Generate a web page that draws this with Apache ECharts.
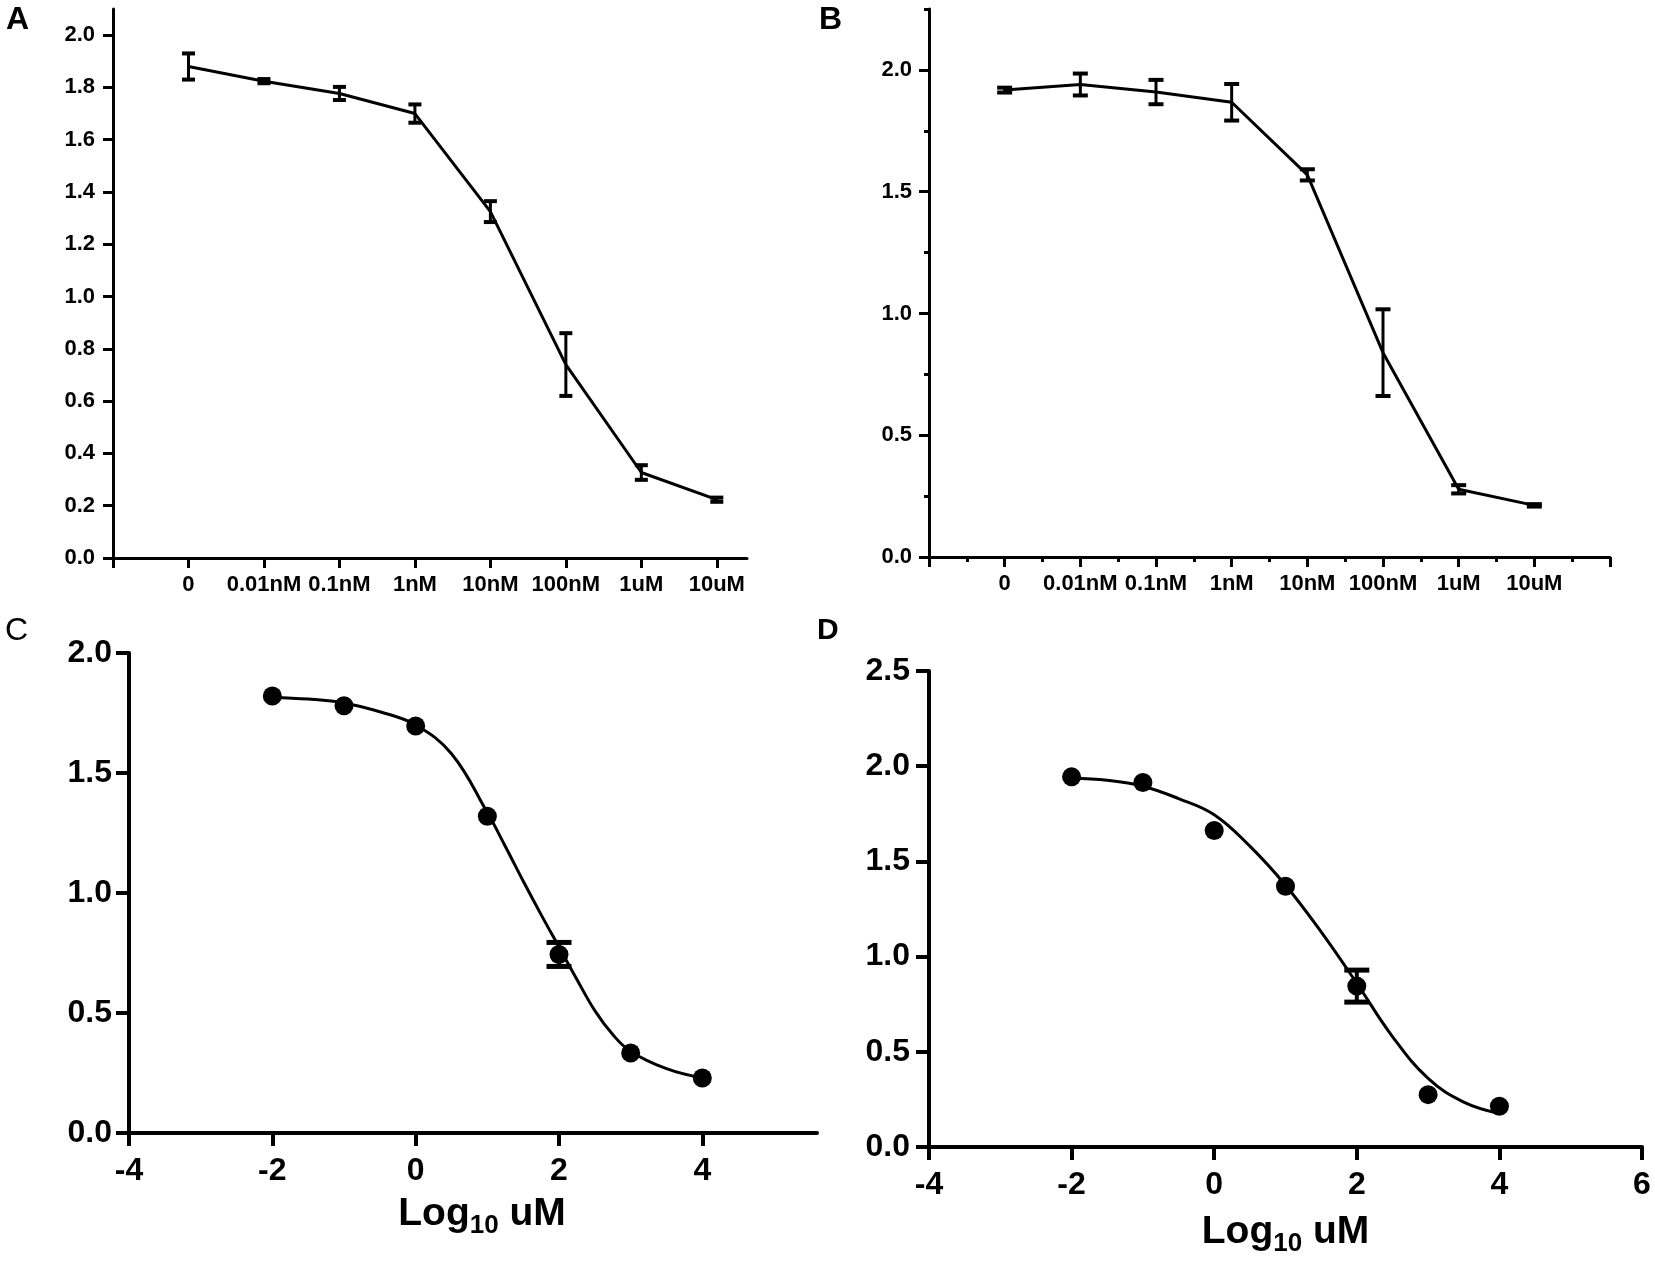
<!DOCTYPE html>
<html>
<head>
<meta charset="utf-8">
<title>Dose response</title>
<script src="https://cdn.jsdelivr.net/npm/echarts@6/dist/echarts.min.js"></script>
<style>
  html, body { margin: 0; padding: 0; background: #fff; }
  #chart { width: 1655px; height: 1263px; }
</style>
</head>
<body>
<div id="chart"></div>
<script>
// A / B : concentration categories on the x axis
var concLabels = ['0', '0.01nM', '0.1nM', '1nM', '10nM', '100nM', '1uM', '10uM'];
var concPos = [0, 1, 2, 3, 4, 5, 6, 7];

var aMean = [1.88, 1.824, 1.777, 1.70, 1.325, 0.74, 0.327, 0.223];
var aErr  = [0.05, 0.008, 0.025, 0.035, 0.04, 0.12, 0.028, 0.008];
var bMean = [1.917, 1.94, 1.909, 1.867, 1.569, 0.839, 0.278, 0.212];
var bErr  = [0.01, 0.045, 0.05, 0.075, 0.023, 0.178, 0.017, 0.005];

// C / D : log10 dose
var logDose = [-2, -1, 0, 1, 2, 3, 4];
var cMean = [1.821, 1.78, 1.696, 1.32, 0.744, 0.333, 0.229];
var cErr  = [0, 0, 0, 0, 0.05, 0, 0];
var dMean = [1.944, 1.914, 1.662, 1.369, 0.845, 0.275, 0.214];
var dErr  = [0, 0, 0, 0, 0.084, 0, 0];

// fitted curves
var cFitX = [-2, -1.5, -1, -0.5, 0, 0.5, 1, 1.25, 1.5, 1.75, 2, 2.25, 2.5, 2.75, 3, 3.5, 4];
var cFitY = [1.815, 1.808, 1.792, 1.755, 1.70, 1.58, 1.335, 1.195, 1.05, 0.91, 0.775, 0.64, 0.51, 0.41, 0.34, 0.268, 0.229];
var dFitX = [-2, -1.5, -1, -0.5, 0, 0.5, 1, 1.5, 2, 2.5, 3, 3.5, 4];
var dFitY = [1.937, 1.926, 1.895, 1.83, 1.745, 1.58, 1.375, 1.13, 0.86, 0.58, 0.36, 0.236, 0.176];

// tick values
var aXTicks = [-1, 0, 1, 2, 3, 4, 5, 6, 7];
var aYTicks = [0, 0.2, 0.4, 0.6, 0.8, 1.0, 1.2, 1.4, 1.6, 1.8, 2.0];
var bXMinor = [-0.5, 0.5, 1.5, 2.5, 3.5, 4.5, 5.5, 6.5, 7.5];
var bYTicks = [0, 0.5, 1.0, 1.5, 2.0];
var bYMinor = [0.25, 0.75, 1.25, 1.75, 2.25];
var cXTicks = [-4, -2, 0, 2, 4];

var FONT = '"Liberation Sans", Arial, Helvetica, sans-serif';

var chart = echarts.init(document.getElementById('chart'));

function pairs(xs, ys) {
  return xs.map(function (x, i) { return [x, ys[i]]; });
}

// vertical error bar with caps
function errorBars(idx, xs, means, errs, capW, lw, capLw) {
  return {
    type: 'custom',
    xAxisIndex: idx,
    yAxisIndex: idx,
    z: 5,
    data: xs.map(function (x, i) {
      return [x, means[i] - errs[i], means[i] + errs[i], errs[i]];
    }),
    renderItem: function (params, api) {
      if (!api.value(3)) return { type: 'group', children: [] };
      var lo = api.coord([api.value(0), api.value(1)]);
      var hi = api.coord([api.value(0), api.value(2)]);
      var h = capW / 2;
      return {
        type: 'group',
        children: [
          { type: 'line', shape: { x1: lo[0], y1: lo[1], x2: hi[0], y2: hi[1] },
            style: { stroke: '#000', lineWidth: lw } },
          { type: 'line', shape: { x1: lo[0] - h, y1: lo[1], x2: lo[0] + h, y2: lo[1] },
            style: { stroke: '#000', lineWidth: capLw } },
          { type: 'line', shape: { x1: hi[0] - h, y1: hi[1], x2: hi[0] + h, y2: hi[1] },
            style: { stroke: '#000', lineWidth: capLw } }
        ]
      };
    }
  };
}

function smallAxis(extra) {
  var base = {
    type: 'value',
    axisLine: { onZero: false, lineStyle: { color: '#000', width: 3 } },
    axisTick: { length: 10, lineStyle: { color: '#000', width: 3 } },
    axisLabel: { color: '#000', fontSize: 22, fontWeight: 'bold', fontFamily: FONT },
    splitLine: { show: false }
  };
  return Object.assign(base, extra);
}

function bigAxis(extra) {
  var base = {
    type: 'value',
    axisLine: { onZero: false, lineStyle: { color: '#000', width: 4 } },
    axisTick: { length: 13, lineStyle: { color: '#000', width: 4 } },
    axisLabel: { color: '#000', fontSize: 32, fontWeight: 'bold', fontFamily: FONT },
    splitLine: { show: false }
  };
  return Object.assign(base, extra);
}

// only-minor-tick axis laid over panel B
function minorAxis(gridIndex, pos, min, max, ticks) {
  return {
    type: 'value', gridIndex: gridIndex, position: pos, min: min, max: max,
    axisLine: { show: false, onZero: false },
    axisTick: { show: true, length: 5, lineStyle: { color: '#000', width: 3 }, customValues: ticks },
    axisLabel: { show: false }, splitLine: { show: false }
  };
}

var logName = '{a|Log}{b|10}{a| uM}';
var logRich = {
  a: { fontSize: 39, fontWeight: 'bold', fontFamily: FONT, color: '#000', verticalAlign: 'top', lineHeight: 48 },
  b: { fontSize: 26, fontWeight: 'bold', fontFamily: FONT, color: '#000', verticalAlign: 'top', lineHeight: 48, padding: [18, 0, 0, 0] }
};

var option = {
  backgroundColor: '#fff',
  animation: false,
  grid: [
    { left: 113, top: 9, width: 634, height: 549, outerBoundsMode: 'none' },
    { left: 929, top: 9, width: 681, height: 548, outerBoundsMode: 'none' },
    { left: 129, top: 653, width: 688, height: 480, outerBoundsMode: 'none' },
    { left: 929, top: 671, width: 713, height: 476, outerBoundsMode: 'none' },
    { left: 929, top: 9, width: 681, height: 548, outerBoundsMode: 'none' }
  ],
  xAxis: [
    smallAxis({
      gridIndex: 0, position: 'bottom', min: -1, max: 7.4,
      axisTick: { length: 10, lineStyle: { color: '#000', width: 3 }, customValues: aXTicks },
      axisLabel: { color: '#000', fontSize: 22, fontWeight: 'bold', fontFamily: FONT, margin: 16,
        customValues: concPos, formatter: function (v) { return concLabels[Math.round(v)]; } }
    }),
    smallAxis({
      gridIndex: 1, position: 'bottom', min: -1, max: 8, interval: 1,
      axisLabel: { color: '#000', fontSize: 22, fontWeight: 'bold', fontFamily: FONT, margin: 16,
        customValues: concPos, formatter: function (v) { return concLabels[Math.round(v)]; } }
    }),
    bigAxis({
      gridIndex: 2, position: 'bottom', min: -4, max: 5.6,
      axisTick: { length: 13, lineStyle: { color: '#000', width: 4 }, customValues: cXTicks },
      axisLabel: { color: '#000', fontSize: 32, fontWeight: 'bold', fontFamily: FONT, margin: 22, customValues: cXTicks },
      name: logName, nameLocation: 'middle', nameGap: 62,
      nameTextStyle: { rich: logRich, padding: [0, 0, 0, 18] }
    }),
    bigAxis({
      gridIndex: 3, position: 'bottom', min: -4, max: 6, interval: 2,
      axisLabel: { color: '#000', fontSize: 32, fontWeight: 'bold', fontFamily: FONT, margin: 22 },
      name: logName, nameLocation: 'middle', nameGap: 66, nameTextStyle: { rich: logRich }
    }),
    minorAxis(4, 'bottom', -1, 8, bXMinor)
  ],
  yAxis: [
    smallAxis({
      gridIndex: 0, position: 'left', min: 0, max: 2.1,
      axisTick: { length: 10, lineStyle: { color: '#000', width: 3 }, customValues: aYTicks },
      axisLabel: { color: '#000', fontSize: 22, fontWeight: 'bold', fontFamily: FONT, margin: 18,
        customValues: aYTicks, formatter: function (v) { return v.toFixed(1); } }
    }),
    smallAxis({
      gridIndex: 1, position: 'left', min: 0, max: 2.25,
      axisTick: { length: 10, lineStyle: { color: '#000', width: 3 }, customValues: bYTicks },
      axisLabel: { color: '#000', fontSize: 22, fontWeight: 'bold', fontFamily: FONT, margin: 17,
        customValues: bYTicks, formatter: function (v) { return v.toFixed(1); } }
    }),
    bigAxis({
      gridIndex: 2, position: 'left', min: 0, max: 2, interval: 0.5,
      axisLabel: { color: '#000', fontSize: 32, fontWeight: 'bold', fontFamily: FONT, margin: 17,
        formatter: function (v) { return v.toFixed(1); } }
    }),
    bigAxis({
      gridIndex: 3, position: 'left', min: 0, max: 2.5, interval: 0.5,
      axisLabel: { color: '#000', fontSize: 32, fontWeight: 'bold', fontFamily: FONT, margin: 19,
        formatter: function (v) { return v.toFixed(1); } }
    }),
    minorAxis(4, 'left', 0, 2.25, bYMinor)
  ],
  graphic: [
    { type: 'text', left: 6, top: 4, style: { text: 'A', font: 'bold 32px ' + FONT, fill: '#000' } },
    { type: 'text', left: 819, top: 4, style: { text: 'B', font: 'bold 32px ' + FONT, fill: '#000' } },
    { type: 'text', left: 5, top: 615, style: { text: 'C', font: '32px ' + FONT, fill: '#000' } },
    { type: 'text', left: 817, top: 616, style: { text: 'D', font: 'bold 30px ' + FONT, fill: '#000' } }
  ],
  series: [
    { type: 'line', xAxisIndex: 0, yAxisIndex: 0, data: pairs(concPos, aMean), symbol: 'none',
      lineStyle: { color: '#000', width: 3 } },
    errorBars(0, concPos, aMean, aErr, 13, 3, 4),
    { type: 'line', xAxisIndex: 1, yAxisIndex: 1, data: pairs(concPos, bMean), symbol: 'none',
      lineStyle: { color: '#000', width: 3 } },
    errorBars(1, concPos, bMean, bErr, 15, 3, 4),
    { type: 'line', xAxisIndex: 2, yAxisIndex: 2, data: pairs(cFitX, cFitY), symbol: 'none', smooth: 0.4,
      lineStyle: { color: '#000', width: 3 } },
    { type: 'scatter', xAxisIndex: 2, yAxisIndex: 2, data: pairs(logDose, cMean), symbolSize: 19,
      itemStyle: { color: '#000', opacity: 1 }, z: 4 },
    errorBars(2, logDose, cMean, cErr, 25, 4, 5),
    { type: 'line', xAxisIndex: 3, yAxisIndex: 3, data: pairs(dFitX, dFitY), symbol: 'none', smooth: 0.4,
      lineStyle: { color: '#000', width: 3 } },
    { type: 'scatter', xAxisIndex: 3, yAxisIndex: 3, data: pairs(logDose, dMean), symbolSize: 19,
      itemStyle: { color: '#000', opacity: 1 }, z: 4 },
    errorBars(3, logDose, dMean, dErr, 25, 4, 5)
  ]
};

chart.setOption(option);
</script>
</body>
</html>
